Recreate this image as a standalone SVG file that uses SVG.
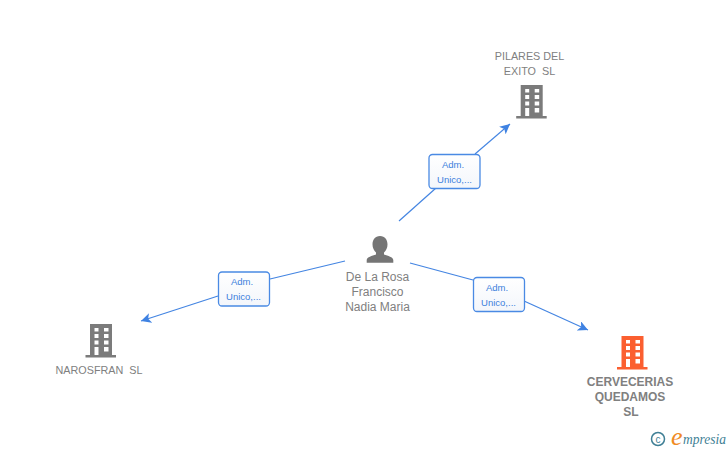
<svg xmlns="http://www.w3.org/2000/svg" width="728" height="450" viewBox="0 0 728 450">
<style>
.lbl{font-family:"Liberation Sans",Arial,sans-serif;font-size:10.800px;fill:#808080;text-anchor:middle;white-space:pre}
.p{font-size:12px}
.b{font-weight:bold;font-size:12px}
.rel{font-family:"Liberation Sans",Arial,sans-serif;font-size:9.500px;fill:#3c7fdc;text-anchor:middle}
.box{fill:url(#bg);stroke:#4a8ae4;stroke-width:1.300}
.con{fill:none;stroke:#4485e2;stroke-width:1.200}
</style>
<defs>
<linearGradient id="bg" x1="0" y1="0" x2="0" y2="1"><stop offset="0" stop-color="#ffffff"/><stop offset="1" stop-color="#f3f6fb"/></linearGradient>
<marker id="arr" markerWidth="12" markerHeight="10" refX="10" refY="5" orient="auto" markerUnits="userSpaceOnUse"><path d="M0 0L10 5L0 10L2.500 5Z" fill="#3f82e2"/></marker>
<path id="bld" fill-rule="evenodd" d="M0 0H22V31H26V33.500H-4.500V31H0ZM4.500 4V7.500H8.500V4ZM14 4V7.500H18.500V4ZM4.500 10V14H8.500V10ZM14 10V14H18.500V10ZM4.500 16.500V20.500H8.500V16.500ZM14 16.500V20.500H18.500V16.500ZM4.500 23V31H8.500V23ZM14 23V27.500H18.500V23Z"/>
</defs>
<g id="connectors">
<path class="con" d="M399 221L436 188"/>
<path class="con" d="M475 154L510 124" marker-end="url(#arr)"/>
<path class="con" d="M345 261L270 279"/>
<path class="con" d="M218 296L141 321" marker-end="url(#arr)"/>
<path class="con" d="M410 263L473 280"/>
<path class="con" d="M524 301L588 330" marker-end="url(#arr)"/>
</g>
<g id="edge-label-1"><rect class="box" x="429" y="154.500" width="51" height="34" rx="3.500"/><text class="rel" x="453" y="168">Adm.</text><text class="rel" x="454.500" y="183">Unico,...</text></g>
<g id="edge-label-2"><rect class="box" x="218.500" y="272" width="51" height="34" rx="3.500"/><text class="rel" x="242" y="285">Adm.</text><text class="rel" x="243.500" y="300">Unico,...</text></g>
<g id="edge-label-3"><rect class="box" x="473.500" y="277.500" width="51" height="34" rx="3.500"/><text class="rel" x="497" y="291">Adm.</text><text class="rel" x="498.500" y="306">Unico,...</text></g>
<g id="node-pilares"><text class="lbl" x="529.500" y="60">PILARES DEL</text><text class="lbl" x="529.500" y="75">EXITO  SL</text><use href="#bld" x="520.700" y="85" fill="#7b7b7b"/></g>
<g id="node-person"><path fill="#757575" d="M380 236C375 236 372.500 240 372.500 244.500C372.500 248 374 250.500 376 252.500V254.500C372 256 367 257 366.700 260V262.700H393.300V260C393 257 388 256 384 254.500V252.500C386 250.500 387.500 248 387.500 244.500C387.500 240 385 236 380 236Z"/><text class="lbl p" x="377.500" y="281">De La Rosa</text><text class="lbl p" x="377.500" y="296">Francisco</text><text class="lbl p" x="377.500" y="311">Nadia Maria</text></g>
<g id="node-narosfran"><use href="#bld" x="90" y="324" fill="#7b7b7b"/><text class="lbl" x="99" y="374">NAROSFRAN  SL</text></g>
<g id="node-cervecerias"><use href="#bld" x="621.500" y="336" fill="#fb5f30"/><text class="lbl b" x="630" y="386">CERVECERIAS</text><text class="lbl b" x="630" y="401">QUEDAMOS</text><text class="lbl b" x="631" y="416">SL</text></g>
<g id="logo"><circle cx="658" cy="439" r="6.500" fill="none" stroke="#3f7f95" stroke-width="1.500"/><text x="658" y="442.500" font-family="'Liberation Sans',sans-serif" font-size="10" fill="#3f7f95" text-anchor="middle">c</text><text x="671" y="445" font-family="'Liberation Serif',serif" font-style="italic" font-size="26" fill="#f08a24">e</text><text x="683" y="444" font-family="'Liberation Serif',serif" font-style="italic" font-size="14" fill="#3f7f95" textLength="43" lengthAdjust="spacingAndGlyphs">mpresia</text></g>
</svg>
